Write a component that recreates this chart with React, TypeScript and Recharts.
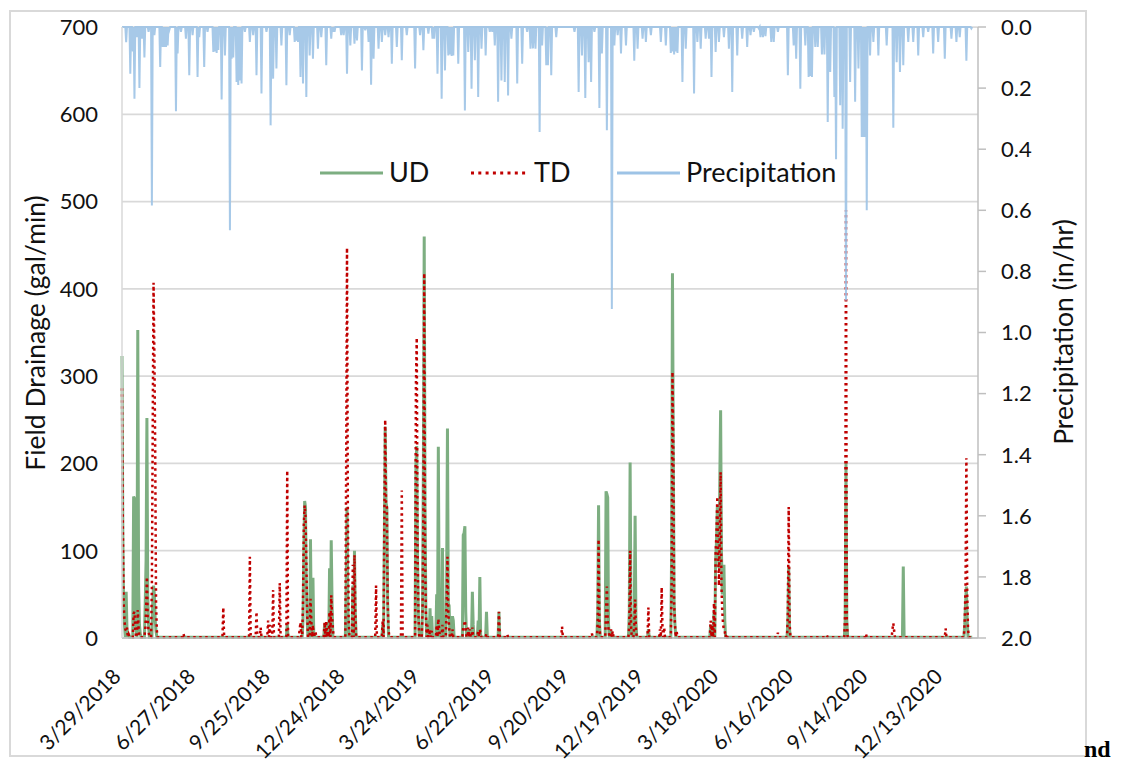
import React from 'react';
import { ComposedChart, Line, XAxis, YAxis, CartesianGrid, Legend } from 'recharts';

// ---------- data ----------
// day offsets are counted from 3/29/2018
const tickDays = [0, 90, 180, 270, 360, 450, 540, 630, 720, 810, 900, 990];
const tickLabels = ['3/29/2018', '6/27/2018', '9/25/2018', '12/24/2018', '3/24/2019', '6/22/2019', '9/20/2019', '12/19/2019', '3/18/2020', '6/16/2020', '9/14/2020', '12/13/2020'];
const lastDay = 1024;
const drainBase = 1; // low flow between events (gal/min)

const udEvents: [number, number][] = [
  [0, 323], [1, 120], [2, 30], [3, 15], [5, 53], [6, 10], [8, 5],
  [14, 162], [15, 160], [16, 40], [17, 10], [19, 353], [20, 60], [21, 15], [22, 5],
  [28, 40], [29, 89], [30, 252], [31, 50], [32, 15],
  [37, 40], [38, 60], [39, 50], [40, 20], [41, 8],
  [199, 16],
  [218, 20], [219, 100], [220, 157], [221, 150], [222, 60], [223, 20],
  [227, 113], [228, 20], [230, 69],
  [244, 15], [246, 18], [250, 80], [252, 112], [253, 40],
  [270, 60], [271, 150], [272, 40], [278, 60], [280, 100], [281, 30],
  [314, 15], [316, 120], [317, 242], [318, 155], [319, 150], [320, 40],
  [354, 200], [355, 220], [356, 90], [357, 25],
  [362, 35], [363, 200], [364, 460], [365, 150], [366, 30], [368, 20],
  [371, 34], [373, 25], [379, 50], [381, 219], [382, 40], [386, 103], [388, 20],
  [391, 60], [392, 240], [393, 40], [394, 37], [398, 25], [399, 20],
  [411, 118], [412, 120], [413, 128], [414, 30], [417, 10],
  [422, 53], [423, 15], [429, 20], [431, 70], [439, 30], [454, 30],
  [573, 30], [574, 152], [575, 20],
  [583, 168], [584, 165], [585, 161], [586, 15], [589, 8],
  [611, 30], [612, 201], [613, 30], [617, 30], [618, 140], [619, 20], [634, 10],
  [662, 100], [663, 418], [664, 220], [665, 40], [666, 15],
  [709, 15], [713, 30], [715, 90], [716, 110], [717, 150], [718, 120], [719, 80], [720, 180], [721, 261], [722, 100], [723, 50], [724, 70], [725, 84], [726, 20],
  [802, 20], [803, 82], [804, 10],
  [871, 20], [872, 201], [873, 20],
  [941, 82],
  [1015, 15], [1016, 40], [1017, 59], [1018, 20],
];

const tdEvents: [number, number][] = [
  [0, 286], [1, 130], [2, 40], [3, 20], [4, 10], [5, 8], [6, 12], [8, 4],
  [14, 28], [15, 30], [16, 10], [19, 32], [20, 12],
  [28, 10], [29, 30], [30, 70], [31, 20], [32, 8],
  [36, 60], [37, 240], [38, 407], [39, 324], [40, 215], [41, 40], [42, 8],
  [74, 5], [122, 35], [154, 93], [162, 30], [167, 12], [176, 20], [178, 15], [182, 55], [190, 63], [199, 192],
  [214, 10], [215, 18], [218, 40], [219, 130], [220, 152], [221, 140], [222, 90], [223, 30],
  [227, 45], [228, 20], [230, 15], [233, 8],
  [244, 18], [246, 20], [248, 8], [250, 30], [252, 49], [253, 25], [254, 10],
  [270, 200], [271, 447], [272, 150], [273, 20], [278, 84], [280, 95], [281, 30],
  [306, 60],
  [314, 20], [316, 140], [317, 250], [318, 155], [319, 150], [320, 40], [321, 10],
  [337, 169],
  [354, 290], [355, 344], [356, 100], [357, 30],
  [362, 30], [363, 150], [364, 418], [365, 100], [366, 30], [368, 15],
  [371, 10], [373, 8], [379, 15], [381, 22], [382, 10], [386, 15],
  [391, 40], [392, 93], [393, 30], [394, 12], [398, 10],
  [411, 12], [412, 15], [413, 20], [414, 10], [417, 12], [419, 10],
  [422, 12], [429, 8], [431, 10], [432, 5], [439, 5], [454, 30], [464, 4],
  [530, 13], [566, 5],
  [573, 20], [574, 113], [575, 15],
  [583, 30], [584, 59], [585, 20], [586, 10], [589, 10], [591, 8],
  [611, 15], [612, 100], [613, 15], [617, 15], [618, 44], [619, 10],
  [634, 35], [648, 10], [650, 58], [651, 10], [653, 12],
  [662, 60], [663, 305], [664, 220], [665, 40], [666, 15], [668, 8],
  [709, 20], [711, 15], [713, 40], [715, 97], [716, 120], [717, 162], [718, 100], [719, 60], [720, 120], [721, 190], [722, 60], [723, 30], [724, 15], [725, 10], [726, 8], [728, 5],
  [790, 6], [802, 30], [803, 150], [804, 20], [849, 3],
  [871, 30], [872, 490], [873, 20], [896, 5],
  [928, 10], [929, 17], [930, 8], [992, 11],
  [1015, 20], [1016, 60], [1017, 206], [1018, 50], [1019, 10],
];

const precipEvents: [number, number][] = [
  [5, 0.05], [10, 0.153], [13, 0.08], [15, 0.235], [18, 0.033], [21, 0.2], [24, 0.038], [27, 0.1], [32, 0.016],
  [36, 0.584], [39, 0.027], [46, 0.131], [49, 0.065], [51, 0.065], [53, 0.065], [55, 0.06], [57, 0.01],
  [65, 0.276], [67, 0.087], [71, 0.016], [77, 0.038], [81, 0.158], [85, 0.027], [91, 0.164], [93, 0.033],
  [99, 0.131], [103, 0.016], [110, 0.082], [112, 0.08], [114, 0.085], [116, 0.075], [120, 0.237], [124, 0.093],
  [130, 0.665], [132, 0.104], [134, 0.1], [138, 0.18], [140, 0.19], [142, 0.175], [144, 0.185], [148, 0.016],
  [154, 0.049], [158, 0.027], [162, 0.158], [168, 0.218], [174, 0.016], [179, 0.322], [182, 0.169], [186, 0.136],
  [192, 0.06], [198, 0.191], [202, 0.027], [208, 0.049], [210, 0.045], [212, 0.049], [215, 0.164], [218, 0.185],
  [222, 0.229], [226, 0.093], [230, 0.104], [236, 0.071], [240, 0.033], [246, 0.125], [252, 0.038],
  [254, 0.016], [256, 0.016], [264, 0.027], [267, 0.027], [271, 0.153], [275, 0.06], [280, 0.055], [283, 0.044],
  [289, 0.142], [293, 0.011], [297, 0.049], [300, 0.189], [303, 0.104], [309, 0.071], [313, 0.049], [317, 0.027],
  [321, 0.033], [325, 0.12], [331, 0.065], [337, 0.109], [343, 0.027], [353, 0.136], [359, 0.027], [363, 0.076],
  [369, 0.022], [374, 0.038], [376, 0.038], [380, 0.153], [385, 0.235], [389, 0.142], [393, 0.093], [395, 0.09],
  [397, 0.095], [399, 0.093], [405, 0.12], [413, 0.273], [417, 0.082], [421, 0.202], [425, 0.109], [429, 0.229],
  [433, 0.071], [438, 0.093], [443, 0.016], [446, 0.016], [449, 0.06], [453, 0.245], [457, 0.175], [461, 0.18],
  [465, 0.224], [469, 0.038], [476, 0.185], [482, 0.12], [488, 0.016], [492, 0.071], [495, 0.07], [498, 0.071],
  [503, 0.344], [506, 0.06], [511, 0.125], [513, 0.125], [517, 0.158], [523, 0.033], [545, 0.016],
  [550, 0.213], [554, 0.093], [558, 0.232], [562, 0.115], [565, 0.18], [569, 0.016], [575, 0.265], [578, 0.087],
  [584, 0.338], [590, 0.923], [593, 0.06], [597, 0.027], [601, 0.087], [607, 0.06], [617, 0.11], [621, 0.071],
  [627, 0.038], [631, 0.049], [637, 0.027], [649, 0.049], [655, 0.06], [661, 0.085], [663, 0.08], [665, 0.09],
  [667, 0.08], [669, 0.085], [675, 0.18], [679, 0.071], [689, 0.218], [693, 0.049], [697, 0.071], [703, 0.038],
  [707, 0.038], [710, 0.164], [715, 0.082], [719, 0.049], [725, 0.033], [731, 0.071], [735, 0.213], [741, 0.093],
  [747, 0.038], [753, 0.065], [757, 0.027], [761, 0.016], [767, 0.005],
  [769, 0.033], [772, 0.033], [775, 0.03], [782, 0.049], [785, 0.049], [790, 0.016], [802, 0.158], [809, 0.06],
  [812, 0.104], [817, 0.202], [823, 0.06], [827, 0.164], [829, 0.16], [831, 0.164], [835, 0.065], [838, 0.065],
  [843, 0.09], [846, 0.09], [850, 0.311], [853, 0.147], [858, 0.229], [860, 0.433], [865, 0.256], [868, 0.333],
  [872, 0.895], [877, 0.18], [883, 0.245], [887, 0.136], [891, 0.36], [893, 0.36], [895, 0.36], [897, 0.6],
  [901, 0.093], [905, 0.049], [911, 0.093], [921, 0.06], [929, 0.33], [933, 0.115], [937, 0.147], [941, 0.125],
  [947, 0.049], [953, 0.049], [959, 0.093], [965, 0.033], [971, 0.016], [977, 0.087], [983, 0.049], [991, 0.104],
  [999, 0.038], [1005, 0.049], [1009, 0.033], [1017, 0.11], [1023, 0.005],
];

// ---------- table for the library ----------
const udMap = new Map(udEvents);
const tdMap = new Map(tdEvents);
const pMap = new Map(precipEvents);
const table: { day: number; ud: number; td: number; precip: number }[] = [];
for (let d = 0; d <= lastDay; d++) {
  table.push({
    day: d,
    ud: udMap.get(d) ?? drainBase,
    td: tdMap.get(d) ?? drainBase,
    precip: pMap.get(d) ?? 0,
  });
}

const FONT = 'Lato, "Open Sans", sans-serif';
const TEXT = '#111111';
const GREEN = '#7DAE81';
const RED = '#C00000';
const BLUE = '#9DC3E6';
const AXIS = '#BFBFBF';
const GRID = '#D9D9D9';

const labelFor = (v: number) => {
  const i = tickDays.indexOf(v);
  return i >= 0 ? tickLabels[i] : '';
};

const XTick = (props: any) => {
  const { x, y, payload } = props;
  return (
    <g transform={`translate(${x},${y + 40})`}>
      <text textAnchor="end" transform="rotate(-45)" fontSize={21} fill={TEXT} fontFamily={FONT}>
        {labelFor(payload.value)}
      </text>
    </g>
  );
};

// legend layout (style only)
const legendLayout: Record<string, { x: number; len: number }> = {
  UD: { x: 320, len: 63 },
  TD: { x: 471, len: 57 },
  Precipitation: { x: 617, len: 63 },
};
const renderLegend = (props: any) => {
  const payload = props.payload || [];
  return (
    <svg width={1122} height={40} style={{ display: 'block' }}>
      {payload.map((p: any, i: number) => {
        const lay = legendLayout[p.value] || { x: 0, len: 60 };
        const dashed = p.value === 'TD';
        return (
          <g key={i}>
            <line
              x1={lay.x}
              x2={lay.x + lay.len}
              y1={21}
              y2={21}
              stroke={p.color}
              strokeWidth={3}
              strokeDasharray={dashed ? '3 4.3' : undefined}
            />
            <text x={lay.x + lay.len + 6} y={30} fontSize={27} fontFamily={FONT} fill={TEXT}>
              {p.value}
            </text>
          </g>
        );
      })}
    </svg>
  );
};

const LeftTitle = () => {
  const cx = 35;
  const cy = 333;
  return (
    <text x={cx} y={cy} transform={`rotate(-90, ${cx}, ${cy})`} textAnchor="middle" dominantBaseline="central" fontSize={26.5} fontFamily={FONT} fill={TEXT}>
      Field Drainage (gal/min)
    </text>
  );
};

const RightTitle = () => {
  const cx = 1063;
  const cy = 332;
  return (
    <text x={cx} y={cy} transform={`rotate(-90, ${cx}, ${cy})`} textAnchor="middle" dominantBaseline="central" fontSize={26.5} fontFamily={FONT} fill={TEXT}>
      Precipitation (in/hr)
    </text>
  );
};

export default function App() {
  return (
    <div style={{ position: 'absolute', left: 0, top: 0, width: 1122, height: 763, background: '#fff' }}>
      <div
        style={{
          position: 'absolute',
          left: 9,
          top: 10,
          width: 1078,
          height: 747,
          border: `2px solid ${GRID}`,
          boxSizing: 'border-box',
        }}
      />
      <div style={{ position: 'absolute', left: 0, top: 0 }}>
        <ComposedChart width={1122} height={763} data={table} margin={{ top: 27, right: 0, bottom: 0, left: 0 }}>
          <CartesianGrid yAxisId="left" vertical={false} stroke={GRID} strokeWidth={1.75} />
          <XAxis
            dataKey="day"
            type="number"
            domain={[0, 1031]}
            ticks={tickDays}
            interval={0}
            height={125}
            tickLine={false}
            tickSize={0}
            tickMargin={0}
            axisLine={{ stroke: AXIS, strokeWidth: 1.5 }}
            tick={<XTick />}
          />
          <YAxis
            yAxisId="left"
            orientation="left"
            width={122}
            domain={[0, 700]}
            ticks={[0, 100, 200, 300, 400, 500, 600, 700]}
            tickLine={false}
            tickSize={0}
            tickMargin={24}
            axisLine={{ stroke: GRID, strokeWidth: 1.5 }}
            tick={{ fontSize: 22, fill: TEXT, fontFamily: FONT }}
            label={{ content: () => <LeftTitle /> }}
          />
          <YAxis
            yAxisId="right"
            orientation="right"
            width={144}
            reversed
            domain={[0, 2]}
            ticks={[0, 0.2, 0.4, 0.6, 0.8, 1.0, 1.2, 1.4, 1.6, 1.8, 2.0]}
            tickFormatter={(v: number) => v.toFixed(1)}
            tickSize={8}
            tickMargin={15}
            tickLine={{ stroke: AXIS, strokeWidth: 1.5 }}
            axisLine={{ stroke: AXIS, strokeWidth: 1.5 }}
            tick={{ fontSize: 22, fill: TEXT, fontFamily: FONT }}
            label={{ content: () => <RightTitle /> }}
          />
          <Legend
            layout="horizontal"
            verticalAlign="middle"
            align="center"
            content={renderLegend}
            wrapperStyle={{ position: 'absolute', left: 0, top: 152, width: 1122, height: 40 }}
          />
          <Line
            yAxisId="left"
            dataKey="ud"
            name="UD"
            stroke={GREEN}
            strokeWidth={3}
            dot={false}
            activeDot={false}
            isAnimationActive={false}
          />
          <Line
            yAxisId="left"
            dataKey="td"
            name="TD"
            stroke={RED}
            strokeWidth={2.5}
            strokeDasharray="2.5 3.5"
            dot={false}
            activeDot={false}
            isAnimationActive={false}
          />
          <Line
            yAxisId="right"
            dataKey="precip"
            name="Precipitation"
            stroke={BLUE}
            strokeWidth={2}
            strokeOpacity={0.9}
            dot={false}
            activeDot={false}
            isAnimationActive={false}
          />
        </ComposedChart>
      </div>
      <div
        style={{
          position: 'absolute',
          left: 1084,
          top: 737,
          fontFamily: '"Liberation Serif", "Times New Roman", serif',
          fontWeight: 'bold',
          fontSize: 24,
          lineHeight: '24px',
          color: '#000',
        }}
      >
        nd
      </div>
    </div>
  );
}
